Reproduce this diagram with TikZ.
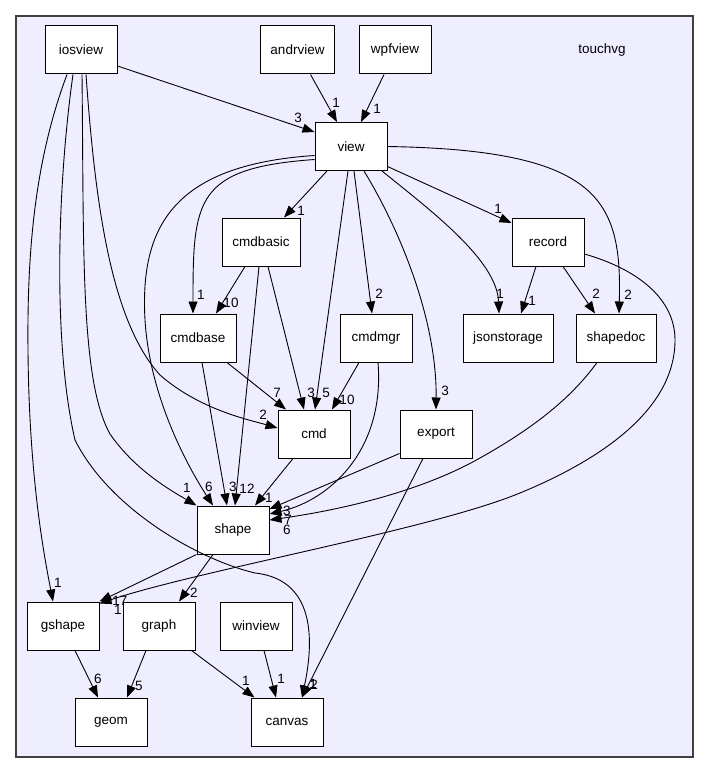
\documentclass[tikz,border=0pt]{standalone}
\usepackage{fontspec}
\setmainfont{Liberation Sans}
\usetikzlibrary{arrows.meta}
\definecolor{dirfill}{HTML}{EEEEFF}
\definecolor{dirframe}{HTML}{404040}

\begin{document}
\begin{tikzpicture}[x=1pt, y=-1pt,
    dir/.style={draw=black, line width=1pt, fill=white, minimum width=72pt,
                minimum height=48pt, inner sep=2pt, font=\fontsize{13.5}{16}\selectfont},
    dep/.style={-{Triangle[length=12pt,width=9pt]}, line width=0.9pt},
    cnt/.style={font=\fontsize{13.5}{16}\selectfont, inner sep=0pt},
]
\useasboundingbox (0,0) rectangle (709,773);

% Cluster frame
\draw[dirframe, line width=1.5pt, fill=dirfill] (16,16) rectangle (693,757);
\node[cnt] (touchvg) at (602,50) {touchvg};

% Directories
\foreach \n/\x/\y in {iosview/81/50, wpfview/395/50, view/351/146.5, record/548/242,
                      cmdmgr/376/338, cmd/314/434, export/436/434, shape/233/530,
                      gshape/63/626, graph/159/626, winview/256/626, geom/111/722,
                      canvas/287/722}
  \node[dir] (\n) at (\x,\y) {\n};
\node[dir, minimum width=74pt] (andrview) at (297.5,50) {andrview};
\node[dir, minimum width=78pt] (cmdbasic) at (261,242) {cmdbasic};
\node[dir, minimum width=76pt] (cmdbase) at (198,338) {cmdbase};
\node[dir, minimum width=90pt] (jsonstorage) at (508,338) {jsonstorage};
\node[dir, minimum width=80pt] (shapedoc) at (616,338) {shapedoc};

% Into view
\draw[dep] ([yshift=-16pt]iosview.east) -- ([yshift=14.5pt]view.west) node[cnt] at (298,118) {3};
\draw[dep] ([xshift=13pt]andrview.south) -- ([xshift=-14pt]view.north) node[cnt] at (336,103) {1};
\draw[dep] ([xshift=-11pt]wpfview.south) -- ([xshift=10pt]view.north) node[cnt] at (377,109) {1};

% Out of view
\draw[dep] ([xshift=-24pt]view.south) -- ([xshift=23pt]cmdbasic.north) node[cnt] at (301,211) {1};
\draw[dep] ([yshift=-20pt]view.east) -- ([yshift=19pt]record.west) node[cnt] at (498,209) {1};
\draw[dep] ([yshift=-13pt]view.west) .. controls (195,168) and (193,200) .. ([xshift=-5pt]cmdbase.north)
  node[cnt] at (201,295) {1};
\draw[dep] ([yshift=-9pt]view.west) .. controls (170,165) and (140,230) .. (145,320)
  .. controls (150,400) and (190,470) .. ([xshift=-20pt]shape.north) node[cnt] at (209,487) {6};
\draw[dep] ([xshift=-3pt]view.south) -- ([xshift=1pt]cmd.north) node[cnt] at (326,393) {5};
\draw[dep] ([xshift=3pt]view.south) -- ([xshift=-4pt]cmdmgr.north) node[cnt] at (379,294) {2};
\draw[dep] ([xshift=13pt]view.south) .. controls (400,230) and (437,320) .. (export.north)
  node[cnt] at (445,391) {3};
\draw[dep] ([xshift=31pt]view.south) .. controls (430,210) and (497,260) .. ([xshift=-9pt]jsonstorage.north)
  node[cnt] at (500,294) {1};
\draw[dep] (view.east) .. controls (600,150) and (622,200) .. ([xshift=3pt]shapedoc.north)
  node[cnt] at (628,295) {2};

% Out of iosview
\draw[dep] ([xshift=-14pt]iosview.south) .. controls (35,160) and (27,250) .. (28,350)
  .. controls (29,480) and (45,560) .. ([xshift=-10pt]gshape.north) node[cnt] at (58,583) {1};
\draw[dep] ([xshift=-8pt]iosview.south) .. controls (58,180) and (52,340) .. (75,440)
  .. controls (110,510) and (200,560) .. (255,573)
  .. controls (320,580) and (312,650) .. ([xshift=15pt]canvas.north) node[cnt] at (313,684) {1};
\draw[dep] ([xshift=1pt]iosview.south) .. controls (84,250) and (80,380) .. (110,434)
  .. controls (135,470) and (170,490) .. (shape.north west) node[cnt] at (187,488) {1};
\draw[dep] ([xshift=5pt]iosview.south) .. controls (95,200) and (110,320) .. (160,375)
  .. controls (200,410) and (250,420) .. ([yshift=6pt]cmd.west) node[cnt] at (263,415) {2};

% Middle levels
\draw[dep] ([xshift=-16pt]cmdbasic.south) -- ([xshift=18pt]cmdbase.north) node[cnt] at (231,303) {10};
\draw[dep] ([xshift=-2pt]cmdbasic.south) -- ([xshift=2pt]shape.north) node[cnt] at (247,489) {12};
\draw[dep] ([xshift=7pt]cmdbasic.south) -- ([xshift=-10pt]cmd.north) node[cnt] at (311,393) {3};
\draw[dep] ([xshift=29pt]cmdbase.south) -- ([xshift=-28pt]cmd.north) node[cnt] at (277,393) {7};
\draw[dep] ([xshift=4pt]cmdbase.south) -- ([xshift=-6pt]shape.north) node[cnt] at (233,487) {3};
\draw[dep] ([xshift=-17pt]cmdmgr.south) -- ([xshift=18pt]cmd.north) node[cnt] at (347,400) {10};
\draw[dep] ([xshift=2pt]cmdmgr.south) .. controls (385,450) and (330,500) .. ([yshift=16pt]shape.east)
  node[cnt] at (288,520) {7};
\draw[dep] ([xshift=-12pt]record.south) -- ([xshift=13pt]jsonstorage.north) node[cnt] at (532,301) {1};
\draw[dep] ([xshift=15pt]record.south) -- ([xshift=-21pt]shapedoc.north) node[cnt] at (596,294) {2};
\draw[dep] ([yshift=-12pt]record.east) .. controls (640,270) and (675,300) .. (675,340)
  .. controls (675,410) and (600,460) .. (520,493)
  .. controls (430,530) and (200,570) .. ([yshift=-2pt]gshape.north east) node[cnt] at (118,610) {1};
\draw[dep] ([xshift=-19pt]shapedoc.south) .. controls (570,400) and (530,430) .. (480,458)
  .. controls (420,492) and (340,510) .. ([yshift=10pt]shape.east) node[cnt] at (287,530) {6};
\draw[dep] (export.south west) ++(0pt,5pt) -- ([yshift=21pt]shape.east) node[cnt] at (287,511) {3};
\draw[dep] ([xshift=-13pt]export.south) -- ([xshift=15pt]canvas.north) node[cnt] at (314,685) {2};
\draw[dep] ([xshift=-21pt]cmd.south) -- ([xshift=22pt]shape.north) node[cnt] at (269,498) {1};

% Bottom levels
\draw[dep] (shape.south west) -- (gshape.north east) node[cnt] at (120,601) {17};
\draw[dep] ([xshift=-20pt]shape.south) -- ([xshift=20pt]graph.north) node[cnt] at (194,593) {2};
\draw[dep] ([xshift=12pt]gshape.south) -- ([xshift=-13pt]geom.north) node[cnt] at (98,679) {6};
\draw[dep] ([xshift=-13pt]graph.south) -- ([xshift=16pt]geom.north) node[cnt] at (139,686) {5};
\draw[dep] ([xshift=-4pt]graph.south east) -- ([xshift=4pt]canvas.north west) node[cnt] at (246,681) {1};
\draw[dep] ([xshift=8pt]winview.south) -- ([xshift=-11pt]canvas.north) node[cnt] at (281,679) {1};

\end{tikzpicture}
\end{document}
